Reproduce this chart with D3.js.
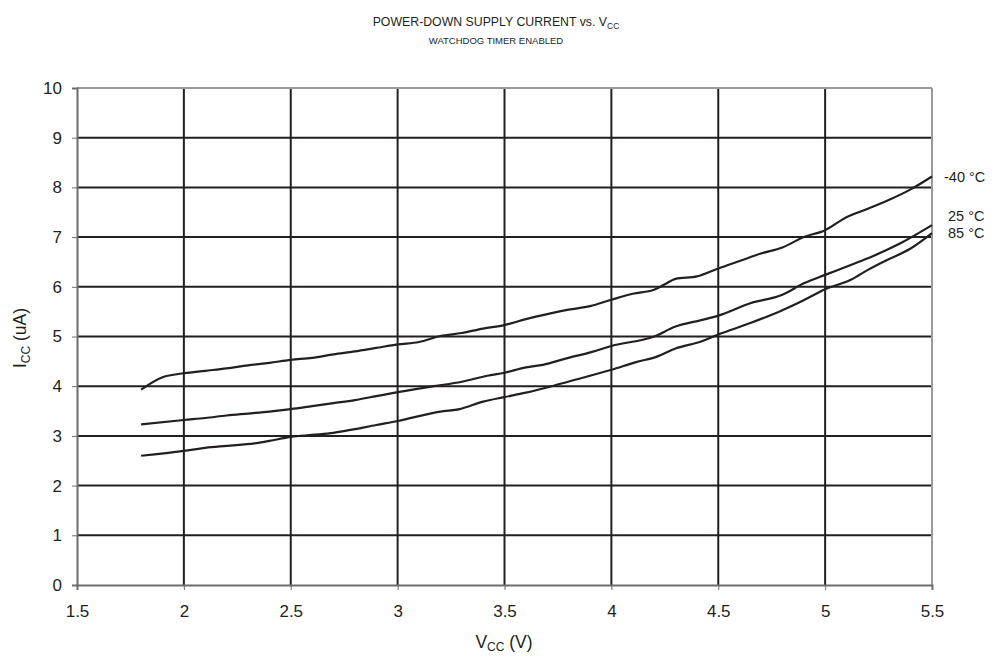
<!DOCTYPE html>
<html><head><meta charset="utf-8">
<script src="https://cdn.jsdelivr.net/npm/d3@7"></script>
<style>body{margin:0;background:#fff;} text{font-family:"Liberation Sans",Arial,sans-serif;fill:#231f20;}</style>
</head><body><svg id="c" width="993" height="657"></svg>
<script>
const xTicks = [1.5,2,2.5,3,3.5,4,4.5,5,5.5];
const yTicks = [0,1,2,3,4,5,6,7,8,9,10];
const seriesNames = ["-40 °C","25 °C","85 °C"];
const vcc_m40 = [1.8,1.9,2.0,2.1,2.2,2.3,2.4,2.5,2.6,2.7,2.8,2.9,3.0,3.1,3.2,3.3,3.4,3.5,3.6,3.7,3.8,3.9,4.0,4.1,4.2,4.25,4.3,4.4,4.5,4.6,4.7,4.8,4.9,5.0,5.1,5.2,5.3,5.4,5.5];
const icc_m40 = [3.93,4.18,4.26,4.31,4.36,4.42,4.47,4.53,4.57,4.64,4.70,4.77,4.84,4.89,5.01,5.07,5.16,5.23,5.35,5.45,5.54,5.61,5.74,5.86,5.94,6.05,6.16,6.21,6.37,6.52,6.67,6.79,7.00,7.14,7.40,7.57,7.75,7.96,8.22];
const vcc_25 = [1.8,2.0,2.1,2.2,2.3,2.4,2.5,2.6,2.7,2.8,2.9,3.0,3.17,3.3,3.42,3.5,3.6,3.68,3.79,3.91,4.0,4.2,4.3,4.42,4.5,4.65,4.8,4.9,5.0,5.12,5.22,5.35,5.5];
const icc_25 = [3.23,3.32,3.36,3.41,3.45,3.49,3.54,3.60,3.66,3.72,3.80,3.88,4.00,4.09,4.21,4.27,4.38,4.43,4.56,4.69,4.81,5.00,5.20,5.33,5.42,5.67,5.84,6.07,6.24,6.44,6.61,6.87,7.24];
const vcc_85 = [1.8,2.0,2.1,2.2,2.33,2.4,2.5,2.6,2.7,2.78,2.9,3.0,3.2,3.29,3.4,3.5,3.6,3.73,3.84,4.0,4.12,4.21,4.3,4.42,4.5,4.65,4.8,4.9,5.0,5.12,5.2,5.29,5.4,5.5];
const icc_85 = [2.60,2.70,2.76,2.80,2.85,2.90,2.98,3.02,3.06,3.12,3.22,3.30,3.49,3.54,3.69,3.78,3.87,4.01,4.14,4.33,4.49,4.59,4.76,4.90,5.04,5.27,5.53,5.73,5.95,6.14,6.34,6.54,6.77,7.08];

const svg = d3.select("#c");
const L=77, R=932, T=88, B=585;
const x = d3.scaleLinear().domain([1.5,5.5]).range([L,R]);
const y = d3.scaleLinear().domain([0,10]).range([B,T]);
const dark="#231f20", gray="#9a9a9a";

// grid
svg.append("g").selectAll("line").data(xTicks.slice(1,-1)).join("line")
  .attr("x1",d=>x(d)).attr("x2",d=>x(d)).attr("y1",T).attr("y2",B)
  .attr("stroke",dark).attr("stroke-width",2);
svg.append("g").selectAll("line").data(yTicks.slice(1,-1)).join("line")
  .attr("x1",L).attr("x2",R).attr("y1",d=>y(d)).attr("y2",d=>y(d))
  .attr("stroke",dark).attr("stroke-width",2);
// borders
svg.append("line").attr("x1",L).attr("x2",R).attr("y1",T).attr("y2",T).attr("stroke",gray).attr("stroke-width",2);
svg.append("line").attr("x1",R).attr("x2",R).attr("y1",T).attr("y2",B).attr("stroke",gray).attr("stroke-width",2);

// axes
const xa = svg.append("g").attr("transform",`translate(0,${B})`)
  .call(d3.axisBottom(x).tickValues(xTicks).tickFormat(d3.format("")).tickSize(5).tickPadding(15));
const ya = svg.append("g").attr("transform",`translate(${L},0)`)
  .call(d3.axisLeft(y).tickValues(yTicks).tickFormat(d3.format("d")).tickSize(5).tickPadding(10));
[xa,ya].forEach(a=>{
  a.selectAll("path").attr("stroke","#6d6d6d").attr("stroke-width",2);
  a.selectAll("line").attr("stroke","#6d6d6d").attr("stroke-width",1);
  a.selectAll("text").attr("font-size",17).attr("fill",dark).attr("font-family","Liberation Sans, Arial, sans-serif");
});

// lines
const line = d3.line().x(d=>x(d[0])).y(d=>y(d[1])).curve(d3.curveMonotoneX);
const series = [d3.zip(vcc_m40,icc_m40), d3.zip(vcc_25,icc_25), d3.zip(vcc_85,icc_85)];
svg.append("g").selectAll("path").data(series).join("path")
  .attr("d",line).attr("fill","none").attr("stroke",dark).attr("stroke-width",2.2);

// series labels (anchored at the end value of each series)
const ends = series.map(s=>s[s.length-1][1]);
const labOff = [6, -4, 5];
svg.append("g").selectAll("text").data(seriesNames).join("text")
  .attr("x",(d,i)=> i===0?944:948).attr("y",(d,i)=>y(ends[i])+labOff[i])
  .attr("font-size",14.5).text(d=>d);

// titles
const t = svg.append("text").attr("x",496).attr("y",26).attr("text-anchor","middle").attr("font-size",12.3);
t.append("tspan").text("POWER-DOWN SUPPLY CURRENT vs. V");
t.append("tspan").attr("font-size",8.5).attr("dy",3).text("CC");
svg.append("text").attr("x",496).attr("y",44).attr("text-anchor","middle").attr("font-size",9.5).text("WATCHDOG TIMER ENABLED");

const xt = svg.append("text").attr("x",504).attr("y",648).attr("text-anchor","middle").attr("font-size",17.5);
xt.append("tspan").text("V");
xt.append("tspan").attr("font-size",12).attr("dy",3).text("CC");
xt.append("tspan").attr("dy",-3).text(" (V)");

const yt = svg.append("text").attr("transform","translate(26,338) rotate(-90)").attr("text-anchor","middle").attr("font-size",17.5);
yt.append("tspan").text("I");
yt.append("tspan").attr("font-size",12).attr("dy",4).text("CC");
yt.append("tspan").attr("dy",-4).text(" (uA)");
</script></body></html>
